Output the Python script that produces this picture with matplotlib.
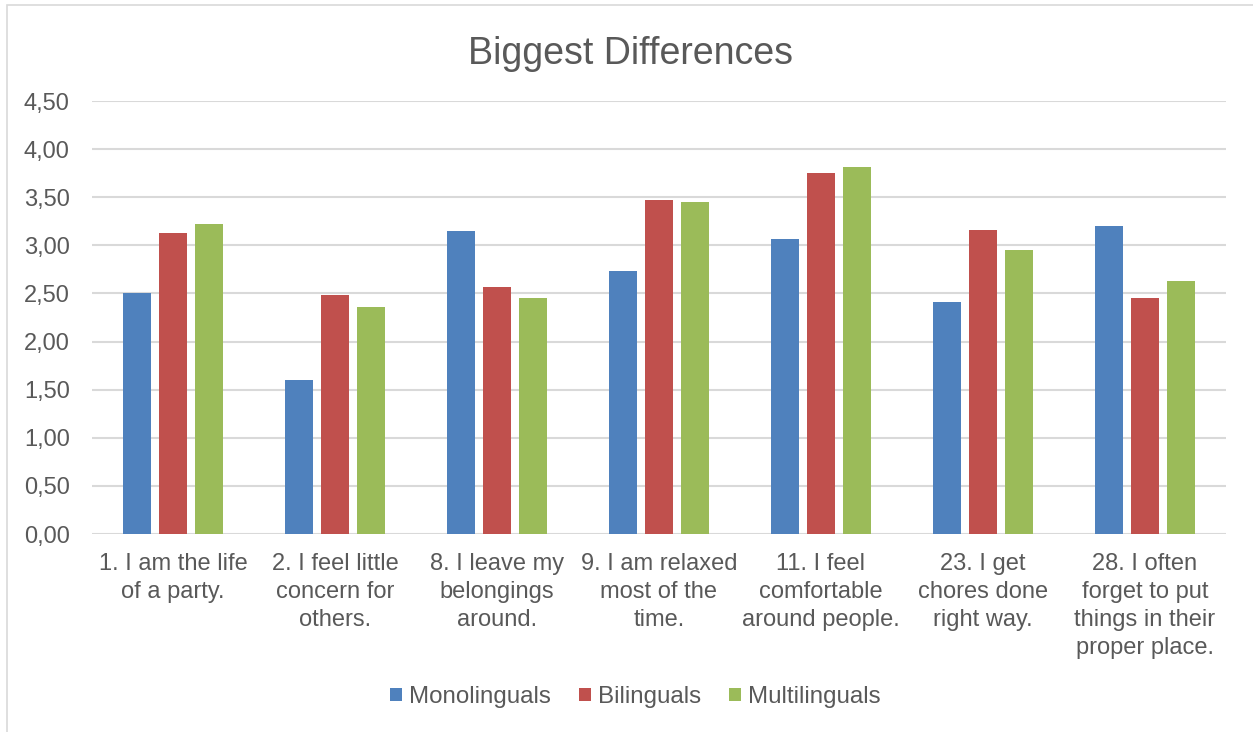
import numpy as np
import matplotlib.pyplot as plt
from matplotlib.patches import Rectangle

plt.rcParams['font.family'] = ['Liberation Sans', 'DejaVu Sans']

categories = ['1. I am the life\nof a party.',
              '2. I feel little\nconcern for\nothers.',
              '8. I leave my\nbelongings\naround.',
              '9. I am relaxed\nmost of the\ntime.',
              '11. I feel\ncomfortable\naround people.',
              '23. I get\nchores done\nright way.',
              '28. I often\nforget to put\nthings in their\nproper place.']
monolinguals = [2.50, 1.60, 3.15, 2.73, 3.07, 2.41, 3.20]
bilinguals = [3.13, 2.48, 2.57, 3.47, 3.75, 3.16, 2.45]
multilinguals = [3.22, 2.36, 2.45, 3.45, 3.81, 2.95, 2.63]
yticks = [0, 0.5, 1, 1.5, 2, 2.5, 3, 3.5, 4, 4.5]

grey = '#595959'
fig = plt.figure(figsize=(12.53, 7.32), dpi=100)
ax = fig.add_axes([92/1253, 1 - 534/732, (1226-92)/1253, (534-101)/732])

x = np.arange(len(categories))
w = 0.178
step = 0.222
series = [(monolinguals, '#4F81BD', 'Monolinguals'),
          (bilinguals, '#C0504D', 'Bilinguals'),
          (multilinguals, '#9BBB59', 'Multilinguals')]
for i, (vals, col, lab) in enumerate(series):
    ax.bar(x + (i - 1) * step, vals, w, color=col, label=lab, zorder=3)

ax.set_xlim(-0.5, len(categories) - 0.5)
ax.set_ylim(0, 4.5)
ax.set_yticks(yticks)
ax.set_yticklabels([('%.2f' % v).replace('.', ',') for v in yticks])
ax.set_xticks(x)
ax.set_xticklabels(categories, linespacing=1.35)
ax.tick_params(axis='both', length=0, labelsize=17, colors=grey)
ax.tick_params(axis='x', pad=14)
ax.tick_params(axis='y', pad=16)
ax.grid(axis='y', color='#D9D9D9', linewidth=1.5, zorder=0)
for s in ax.spines.values():
    s.set_visible(False)

fig.text(630/1253, 1 - 54/732, 'Biggest Differences', ha='center', va='center',
         fontsize=27, color=grey)

fig.legend(loc='center', bbox_to_anchor=(0.5 + 9/1253, 1 - 697/732), ncol=3,
           frameon=False, fontsize=17.4, labelcolor=grey, handlelength=0.5,
           handleheight=0.5, handletextpad=0.3, columnspacing=1.15)

fig.patches.append(Rectangle((7/1253, -0.1), 1.2, 1 - 5/732 + 0.1,
                             transform=fig.transFigure, fill=False,
                             edgecolor='#D9D9D9', linewidth=1.2))

fig.savefig('out.png', dpi=100)
